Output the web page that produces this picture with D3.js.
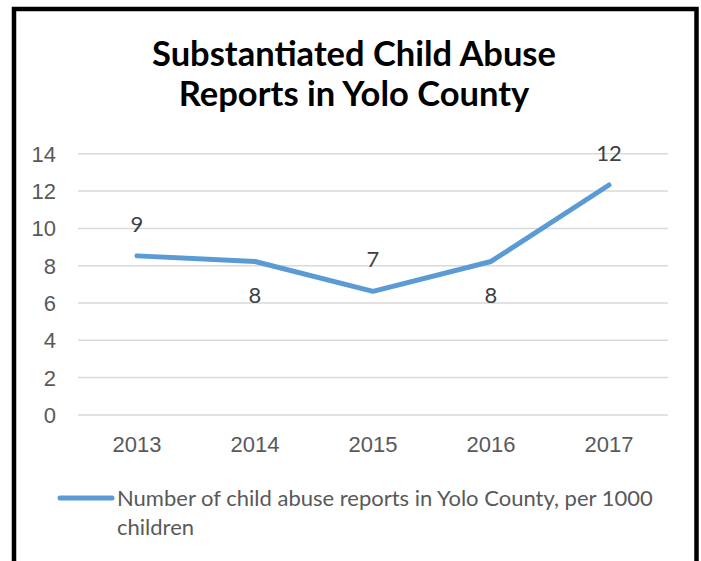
<!DOCTYPE html>
<meta charset="utf-8">
<style>
body { margin: 0; background: #fff; }
svg { display: block; font-family: Lato, "Open Sans", sans-serif; }
.grid line { stroke: #d9d9d9; stroke-width: 1.5; }
.grid path { display: none; }
.tick text { fill: #595959; font-size: 22px; }
</style>
<body>
<script src="https://d3js.org/d3.v7.min.js"></script>
<script>
// values
var years = ["2013", "2014", "2015", "2016", "2017"];
var reports = [8.5, 8.2, 6.6, 8.2, 12.3];
var yTicks = [0, 2, 4, 6, 8, 10, 12, 14];
var titleLines = ["Substantiated Child Abuse", "Reports in Yolo County"];
var legendLines = ["Number of child abuse reports in Yolo County, per 1000", "children"];

var W = 701, H = 561;
var plot = {left: 78, right: 668, top: 153.3, bottom: 414.4};

var svg = d3.select("body").append("svg")
    .attr("width", W)
    .attr("height", H);

// frame
svg.append("rect")
    .attr("x", 14).attr("y", 9)
    .attr("width", 682.5).attr("height", 600)
    .attr("fill", "#fff")
    .attr("stroke", "#000")
    .attr("stroke-width", 4.5);

var x = d3.scaleBand()
    .domain(years)
    .range([plot.left, plot.right]);

var y = d3.scaleLinear()
    .domain([0, 14])
    .range([plot.bottom, plot.top]);

// title
svg.append("g").selectAll("text")
    .data(titleLines)
  .enter().append("text")
    .attr("x", 354)
    .attr("y", function(d, i) { return 66 + i * 40; })
    .attr("text-anchor", "middle")
    .style("font-size", "34.5px")
    .style("font-weight", "bold")
    .style("fill", "#000")
    .text(function(d) { return d; });

// gridlines + y labels
svg.append("g")
    .attr("class", "grid")
    .attr("transform", "translate(" + plot.left + ",0)")
    .call(d3.axisLeft(y).tickValues(yTicks).tickSize(-(plot.right - plot.left)).tickPadding(22))
    .selectAll("text").attr("dy", "0.36em");

// x labels
svg.append("g")
    .attr("class", "xaxis")
    .attr("transform", "translate(0," + plot.bottom + ")")
    .call(d3.axisBottom(x).tickSize(0).tickPadding(22))
    .call(function(g) { g.select(".domain").remove(); });

var line = d3.line()
    .x(function(d, i) { return x(years[i]) + x.bandwidth() / 2; })
    .y(function(d) { return y(d); });

svg.append("path")
    .datum(reports)
    .attr("d", line)
    .attr("fill", "none")
    .attr("stroke", "#5b9bd5")
    .attr("stroke-width", 5)
    .attr("stroke-linecap", "round")
    .attr("stroke-linejoin", "round");

// data labels, alternating above / below
svg.append("g").selectAll("text")
    .data(reports)
  .enter().append("text")
    .attr("x", function(d, i) { return x(years[i]) + x.bandwidth() / 2; })
    .attr("y", function(d, i) { return y(d) + (i % 2 ? 42 : -24); })
    .attr("text-anchor", "middle")
    .style("font-size", "22px")
    .style("fill", "#404040")
    .text(function(d) { return Math.round(d); });

// legend
svg.append("line")
    .attr("x1", 60).attr("x2", 112)
    .attr("y1", 498).attr("y2", 498)
    .attr("stroke", "#5b9bd5")
    .attr("stroke-width", 5)
    .attr("stroke-linecap", "round");

svg.append("g").selectAll("text")
    .data(legendLines)
  .enter().append("text")
    .attr("x", 117)
    .attr("y", function(d, i) { return 506 + i * 28.5; })
    .style("font-size", "22px")
    .style("fill", "#595959")
    .text(function(d) { return d; });
</script>
</body>
